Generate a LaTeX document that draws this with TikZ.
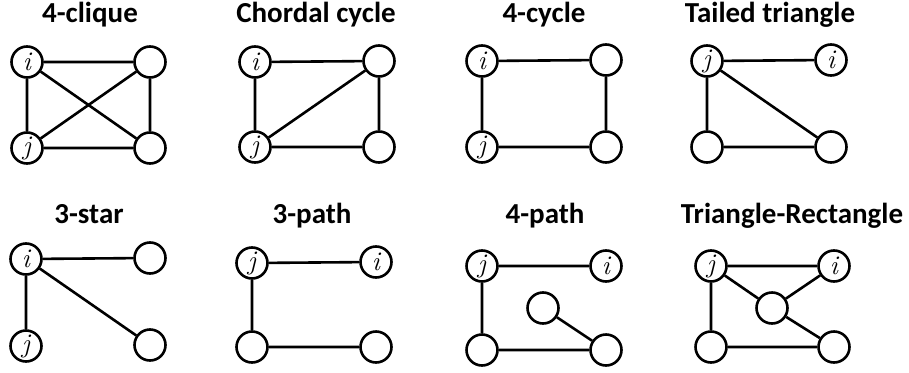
\documentclass[tikz,border=0pt]{standalone}
\usepackage{fontspec}
\newfontfamily\titlefont{Carlito}
\tikzset{
    vtx/.style={circle, draw, line width=2.6pt, minimum size=31pt, inner sep=0pt, font=\fontsize{27}{27}\selectfont\itshape},
    edge/.style={line width=2.6pt},
    ttl/.style={anchor=base, font=\titlefont\bfseries\fontsize{29}{29}\selectfont}
}
\begin{document}
\begin{tikzpicture}[x=1pt, y=-1pt]
            \useasboundingbox (0,0) rectangle (909,372);

            % top row
            \node[ttl] (t1) at (90,22) {4-clique};
            \node[vtx] (a1) at (27,62) {i};
            \node[vtx] (a2) at (150,62) {};
            \node[vtx] (a3) at (27,148) {j};
            \node[vtx] (a4) at (150,148) {};
            \draw[edge] (a1) -- (a2) -- (a4) -- (a3) -- (a1) -- (a4);
            \draw[edge] (a3) -- (a2);

            \node[ttl] (t2) at (316,22) {Chordal cycle};
            \node[vtx] (b1) at (255,62) {i};
            \node[vtx] (b2) at (379,61) {};
            \node[vtx] (b3) at (255,147) {j};
            \node[vtx] (b4) at (379,147) {};
            \draw[edge] (b1) -- (b2) -- (b4) -- (b3) -- (b1);
            \draw[edge] (b3) -- (b2);

            \node[ttl] (t3) at (544,22) {4-cycle};
            \node[vtx] (c1) at (482,61) {i};
            \node[vtx] (c2) at (606,60) {};
            \node[vtx] (c3) at (482,147) {j};
            \node[vtx] (c4) at (606,147) {};
            \draw[edge] (c1) -- (c2) -- (c4) -- (c3) -- (c1);

            \node[ttl] (t4) at (770,22) {Tailed triangle};
            \node[vtx] (d1) at (707,61) {j};
            \node[vtx] (d2) at (831,60) {i};
            \node[vtx] (d3) at (707,147) {};
            \node[vtx] (d4) at (831,147) {};
            \draw[edge] (d2) -- (d1) -- (d3) -- (d4) -- (d1);

            % bottom row
            \node[ttl] (t5) at (89,223) {3-star};
            \node[vtx] (e1) at (26,259) {i};
            \node[vtx] (e2) at (150,258) {};
            \node[vtx] (e3) at (26,346) {j};
            \node[vtx] (e4) at (150,345) {};
            \draw[edge] (e2) -- (e1) -- (e3);
            \draw[edge] (e1) -- (e4);

            \node[ttl] (t6) at (312,223) {3-path};
            \node[vtx] (f1) at (252,263) {j};
            \node[vtx] (f2) at (376,262) {i};
            \node[vtx] (f3) at (252,347) {};
            \node[vtx] (f4) at (376,347) {};
            \draw[edge] (f2) -- (f1) -- (f3) -- (f4);

            \node[ttl] (t7) at (545,223) {4-path};
            \node[vtx] (g1) at (482,266) {j};
            \node[vtx] (g2) at (606,266) {i};
            \node[vtx] (g5) at (543,308) {};
            \node[vtx] (g3) at (482,350) {};
            \node[vtx] (g4) at (606,350) {};
            \draw[edge] (g2) -- (g1) -- (g3) -- (g4) -- (g5);

            \node[ttl] (t8) at (792,223) {Triangle-Rectangle};
            \node[vtx] (h1) at (711,266) {j};
            \node[vtx] (h2) at (834,266) {i};
            \node[vtx] (h5) at (772,308) {};
            \node[vtx] (h3) at (711,347) {};
            \node[vtx] (h4) at (834,347) {};
            \draw[edge] (h2) -- (h1) -- (h3) -- (h4) -- (h5) -- (h1);
            \draw[edge] (h2) -- (h5);
        \end{tikzpicture}
\end{document}
